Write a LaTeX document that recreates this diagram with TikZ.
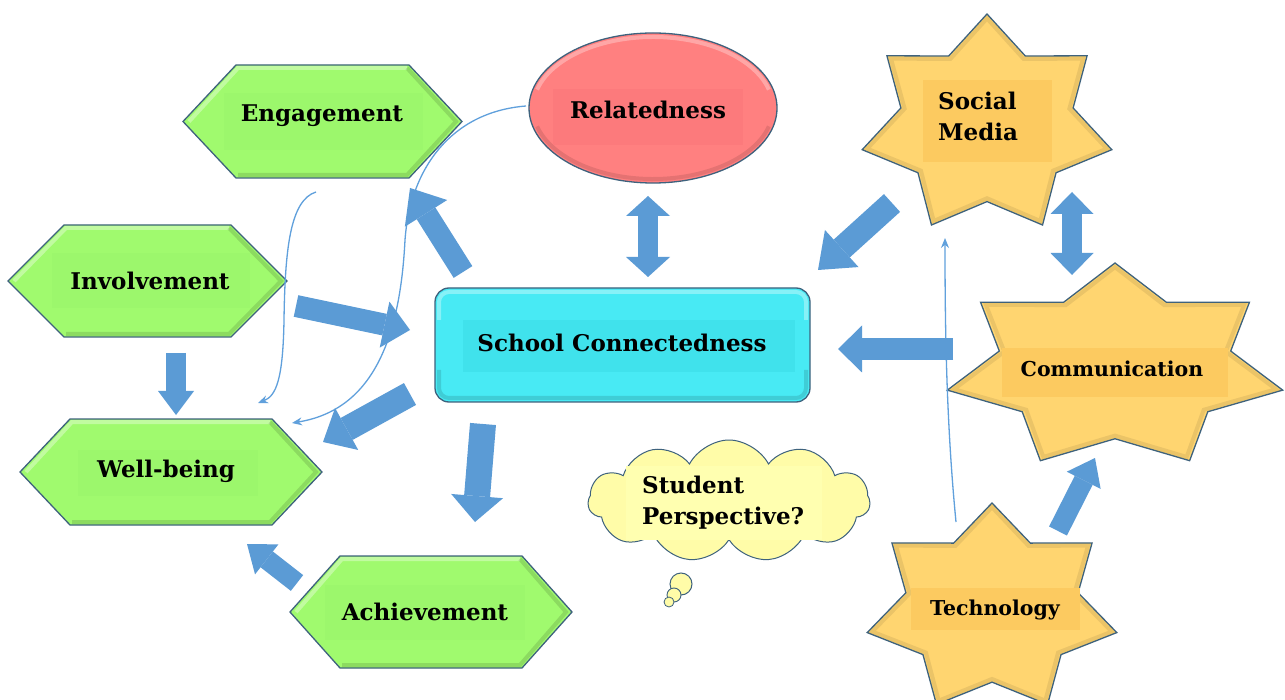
\documentclass[tikz,border=0pt]{standalone}
\usepackage{fontspec}
\setmainfont{DejaVu Serif}
\usetikzlibrary{arrows.meta,shapes.symbols}

\definecolor{hexgreen}{RGB}{160,250,110}
\definecolor{hexbox}{RGB}{156,247,108}
\definecolor{edge}{RGB}{62,98,125}
\definecolor{relred}{RGB}{255,128,128}
\definecolor{relbox}{RGB}{252,122,124}
\definecolor{schoolcyan}{RGB}{72,234,244}
\definecolor{schoolbox}{RGB}{64,226,236}
\definecolor{staryellow}{RGB}{255,213,112}
\definecolor{starbox}{RGB}{252,202,96}
\definecolor{cloudyellow}{RGB}{255,252,168}
\definecolor{cloudbox}{RGB}{255,255,176}
\definecolor{blockblue}{RGB}{91,155,213}
\definecolor{thinblue}{RGB}{96,160,220}

\tikzset{
  shapeedge/.style={draw=edge, line width=1.3pt, line join=miter},
  hexstyle/.style={shapeedge, fill=hexgreen},
  starstyle/.style={shapeedge, fill=staryellow},
  bevellight/.style={draw=white, opacity=0.35, line width=4pt, line join=miter},
  beveldark/.style={draw=black, opacity=0.12, line width=4pt, line join=miter},
  txt/.style={font=\fontsize{23}{31}\selectfont\bfseries, inner sep=0pt, align=center},
  smalltxt/.style={font=\fontsize{20.5}{25}\selectfont\bfseries, inner sep=0pt},
  blockarrow/.style args={#1/#2/#3}{draw=blockblue, line width=#1,
    -{Triangle[length=#3, width=#2, line width=0pt, fill=blockblue]}},
  blockdouble/.style args={#1/#2/#3}{draw=blockblue, line width=#1,
    {Triangle[length=#3, width=#2, line width=0pt, fill=blockblue]}-{Triangle[length=#3, width=#2, line width=0pt, fill=blockblue]}},
  thinarrow/.style={draw=thinblue, line width=1.3pt, -{Stealth[length=10pt, width=8pt]}}
}

% hexagon with a bevelled rim: centre x, centre y, half width, half height, slant inset
\newcommand{\hexshape}[5]{%
  \draw[hexstyle] (#1-#3,#2) -- (#1-#3+#5,#2-#4) -- (#1+#3-#5,#2-#4)
    -- (#1+#3,#2) -- (#1+#3-#5,#2+#4) -- (#1-#3+#5,#2+#4) -- cycle;
  \draw[bevellight] (#1-#3+6,#2) -- (#1-#3+#5+2,#2-#4+3) -- (#1+#3-#5-2,#2-#4+3);
  \draw[beveldark] (#1+#3-#5-2,#2-#4+3) -- (#1+#3-6,#2) -- (#1+#3-#5-2,#2+#4-3)
    -- (#1-#3+#5+2,#2+#4-3);}

% seven-pointed star: centre x, centre y, outer x radius, outer y radius
\newcommand{\heptastar}[4]{%
  \draw[starstyle] plot[samples at={0,...,13}, variable=\k]
    ({#1+(mod(\k,2)==0 ? 1 : 0.69)*#3*cos(90+\k*180/7)},
     {#2-(mod(\k,2)==0 ? 1 : 0.69)*#4*sin(90+\k*180/7)}) -- cycle;
  \draw[beveldark, opacity=0.08] plot[samples at={0,...,13}, variable=\k]
    ({#1+(mod(\k,2)==0 ? 0.96 : 0.66)*#3*cos(90+\k*180/7)},
     {#2-(mod(\k,2)==0 ? 0.96 : 0.66)*#4*sin(90+\k*180/7)}) -- cycle;}

\begin{document}
\begin{tikzpicture}[x=1pt,y=-1pt]
\useasboundingbox (0,0) rectangle (1285,700);
\fill[white] (0,0) rectangle (1285,700);

% ---- green hexagons ----
\hexshape{322.5}{121.5}{139.5}{56.5}{53}
\fill[hexbox] (224,93) rectangle (423,150);
\node[txt] (engage) at (322,116) {Engagement};

\hexshape{147.5}{281}{139.5}{56}{56}
\fill[hexbox] (52,253) rectangle (250,308);
\node[txt] (involve) at (150,281) {Involvement};

\hexshape{171}{472}{151}{53}{50}
\fill[hexbox] (78,450) rectangle (258,496);
\node[txt] (wellbeing) at (166,471) {Well-being};

\hexshape{431}{612}{141}{56}{50}
\fill[hexbox] (325,585) rectangle (525,640);
\node[txt] (achieve) at (425,612) {Achievement};

% ---- relatedness ellipse (y axis points down, so the upper rim uses negative angles) ----
\draw[shapeedge, fill=relred] (653,108) ellipse [x radius=124, y radius=75];
\draw[bevellight, opacity=0.3] (653,108) ++(-165:120 and 71) arc[start angle=-165, end angle=-15, x radius=120, y radius=71];
\draw[beveldark, opacity=0.1] (653,108) ++(15:120 and 71) arc[start angle=15, end angle=165, x radius=120, y radius=71];
\fill[relbox] (553,89) rectangle (743,145);
\node[txt] (related) at (648,110) {Relatedness};

% ---- school connectedness ----
\draw[shapeedge, fill=schoolcyan, rounded corners=14pt] (435,288) rectangle (810,402);
\draw[bevellight, rounded corners=10pt] (439,320) -- (439,292) -- (806,292) -- (806,320);
\draw[beveldark, rounded corners=10pt] (806,370) -- (806,398) -- (439,398) -- (439,370);
\fill[schoolbox] (463,320) rectangle (795,372);
\node[txt] (school) at (622,343) {School Connectedness};

% ---- thought cloud ----
\node[cloud, cloud puffs=11, cloud puff arc=125, aspect=2.3, draw=edge, line width=1pt,
      fill=cloudyellow, minimum width=282pt, minimum height=122pt, inner sep=0pt]
      (cloudshape) at (729,501) {};
\fill[cloudbox] (626,466) rectangle (822,540);
\draw[draw=edge, line width=1pt, fill=cloudyellow] (681,584) circle (11);
\draw[draw=edge, line width=0.9pt, fill=cloudyellow] (674,595) circle (7);
\draw[draw=edge, line width=0.8pt, fill=cloudyellow] (669,602) circle (5);
\node[txt, align=left, anchor=west] (perspective) at (642,503) {Student\\Perspective?};

% ---- stars ----
\heptastar{987}{125}{128}{111}
\fill[starbox] (923,80) rectangle (1052,162);
\node[txt, align=left, anchor=west] (social) at (938,116) {Social\\Media};

\heptastar{1115}{367}{172}{104}
\fill[starbox] (1002,348) rectangle (1228,397);
\node[smalltxt] (comm) at (1112,369) {Communication};

\heptastar{992}{609}{128}{106}
\fill[starbox] (911,588) rectangle (1080,630);
\node[smalltxt] (tech) at (995,610) {Technology};

% ---- thin curved links ----
\coordinate (relout) at (526,106);
\coordinate (engout) at (316,192);
\coordinate (techout) at (956,522);
\coordinate (wbin1) at (292,423);
\coordinate (wbin2) at (258,403);
\coordinate (socin) at (945,238);
\draw[thinarrow] (relout) .. controls (450,112) and (410,170) .. (405,240)
  .. controls (400,340) and (372,410) .. (wbin1);
\draw[thinarrow] (engout) .. controls (290,200) and (285,250) .. (284,320)
  .. controls (283,380) and (276,396) .. (wbin2);
\draw[thinarrow] (techout) .. controls (946,420) and (945,320) .. (socin);

% ---- block arrows ----
\coordinate (a1s) at (463,272);  \coordinate (a1e) at (410,188);
\coordinate (a2s) at (296,306);  \coordinate (a2e) at (410,330);
\coordinate (a3s) at (176,353);  \coordinate (a3e) at (176,415);
\coordinate (a4s) at (410,394);  \coordinate (a4e) at (323,442);
\coordinate (a5s) at (483,424);  \coordinate (a5e) at (475,522);
\coordinate (a6s) at (297,583);  \coordinate (a6e) at (247,544);
\coordinate (a7s) at (648,196);  \coordinate (a7e) at (648,277);
\coordinate (a8s) at (892,203);  \coordinate (a8e) at (818,270);
\coordinate (a9s) at (953,349);  \coordinate (a9e) at (838,349);
\coordinate (a10s) at (1072,192); \coordinate (a10e) at (1072,275);
\coordinate (a11s) at (1058,531); \coordinate (a11e) at (1095,458);

\draw[blockarrow=22pt/50pt/30pt] (a1s) -- (a1e);
\draw[blockarrow=22pt/47pt/26pt] (a2s) -- (a2e);
\draw[blockarrow=20pt/36pt/24pt] (a3s) -- (a3e);
\draw[blockarrow=25pt/48pt/27pt] (a4s) -- (a4e);
\draw[blockarrow=26pt/52pt/26pt] (a5s) -- (a5e);
\draw[blockarrow=20pt/38pt/25pt] (a6s) -- (a6e);
\draw[blockdouble=20pt/44pt/20pt] (a7s) -- (a7e);
\draw[blockarrow=24pt/50pt/32pt] (a8s) -- (a8e);
\draw[blockarrow=22pt/47pt/24pt] (a9s) -- (a9e);
\draw[blockdouble=20pt/43pt/22pt] (a10s) -- (a10e);
\draw[blockarrow=20pt/38pt/25pt] (a11s) -- (a11e);
\end{tikzpicture}
\end{document}
